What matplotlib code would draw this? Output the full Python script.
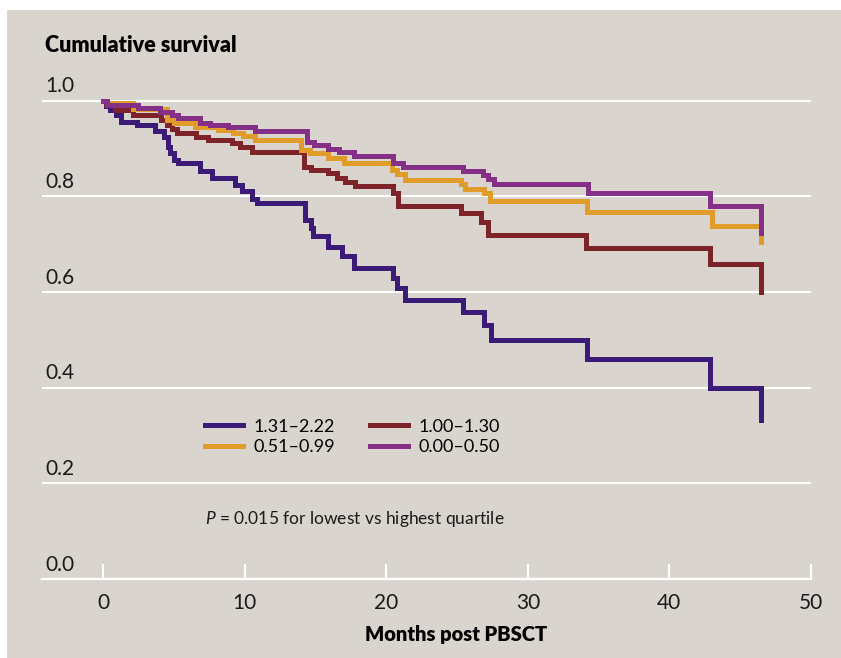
import matplotlib
matplotlib.use("Agg")
import matplotlib.pyplot as plt
from matplotlib.patches import Rectangle

# ---------------- data ----------------
labels = ["1.31–2.22", "1.00–1.30", "0.51–0.99", "0.00–0.50"]
colors = ["#3b1a78", "#7e2329", "#e09b28", "#843086"]

t_blue = [0, 0.2, 0.5, 0.9, 1.3, 2.4, 3.7, 4.3, 4.6, 4.75, 5.0, 5.3, 6.85, 7.7, 9.3, 9.8,
          10.5, 10.85, 14.25, 14.7, 14.85, 15.9, 16.9, 17.7, 20.5, 20.75, 21.3, 25.4, 26.9,
          27.4, 34.2, 42.9, 46.5]
s_blue = [1.0, 0.989, 0.981, 0.970, 0.956, 0.950, 0.937, 0.925, 0.904, 0.890, 0.876, 0.869,
          0.852, 0.838, 0.824, 0.811, 0.794, 0.786, 0.750, 0.734, 0.717, 0.695, 0.675, 0.651,
          0.629, 0.608, 0.583, 0.559, 0.531, 0.500, 0.461, 0.400, 0.333]

t_red = [0, 0.2, 0.85, 2.1, 4.1, 4.5, 4.85, 5.2, 6.6, 7.4, 9.1, 9.7, 10.5, 14.2, 14.7, 15.9,
         16.5, 17.1, 17.8, 20.5, 20.85, 25.3, 26.7, 27.2, 34.1, 42.9, 46.5]
s_red = [1.0, 0.993, 0.981, 0.970, 0.960, 0.949, 0.940, 0.932, 0.925, 0.918, 0.911, 0.904,
         0.893, 0.862, 0.855, 0.848, 0.838, 0.829, 0.822, 0.808, 0.780, 0.765, 0.747, 0.719,
         0.691, 0.659, 0.600]

t_orange = [0, 0.3, 2.1, 4.5, 5.0, 6.5, 8.1, 9.2, 9.9, 10.7, 14.0, 14.6, 15.9, 17.0, 20.4,
            20.75, 21.3, 25.3, 25.6, 26.9, 27.3, 34.2, 43.0, 46.5]
s_orange = [1.0, 0.995, 0.982, 0.960, 0.953, 0.946, 0.939, 0.932, 0.926, 0.918, 0.897, 0.890,
            0.881, 0.869, 0.855, 0.846, 0.834, 0.825, 0.815, 0.806, 0.790, 0.767, 0.739, 0.705]

t_purple = [0, 0.3, 2.5, 4.0, 4.85, 5.3, 6.85, 7.55, 8.85, 10.7, 14.4, 14.9, 15.9, 16.7, 17.7,
            20.5, 21.2, 25.45, 26.85, 27.2, 27.6, 34.25, 42.9, 46.5]
s_purple = [1.0, 0.991, 0.984, 0.977, 0.970, 0.963, 0.954, 0.949, 0.944, 0.937, 0.913, 0.908,
            0.900, 0.893, 0.884, 0.870, 0.861, 0.852, 0.845, 0.836, 0.825, 0.808, 0.780, 0.723]

xticks = [0, 10, 20, 30, 40, 50]
yticks = [0.0, 0.2, 0.4, 0.6, 0.8, 1.0]
ytick_labels = ["0.0", "0.2", "0.4", "0.6", "0.8", "1.0"]

# ---------------- style ----------------
plt.rcParams['font.family'] = ['Lato', 'DejaVu Sans']
plt.rcParams['mathtext.fontset'] = 'custom'
plt.rcParams['mathtext.it'] = 'Lato:italic'
plt.rcParams['mathtext.rm'] = 'Lato'

BG = "#d9d5ce"
W, H = 841, 658
fig = plt.figure(figsize=(W / 100, H / 100), dpi=100, facecolor="white")
fig.patches.append(Rectangle((7 / W, 0), 1, (H - 10) / H, transform=fig.transFigure,
                             facecolor=BG, edgecolor="none", zorder=-10))

ax_left, ax_right, ax_bottom, ax_top = 42, 811, 579, 90
ax = fig.add_axes([ax_left / W, (H - ax_bottom) / H, (ax_right - ax_left) / W,
                   (ax_bottom - ax_top) / H])
ax.set_facecolor("none")
ax.set_zorder(5)
px_per_month = (811 - 103) / 50
ax.set_xlim(-(103 - 42) / px_per_month, 50)
ax.set_ylim(0, (579 - 90) / 478.3)

for s in ["top", "right", "left"]:
    ax.spines[s].set_visible(False)
ax.spines["bottom"].set_color("white")
ax.spines["bottom"].set_linewidth(1.7)

for v in yticks[1:]:
    ax.axhline(v, color="white", lw=1.5, zorder=1)

ax.set_yticks([])
ax.set_xticks(xticks)
ax.set_xticklabels([str(x) for x in xticks], fontsize=15, color="#1a1a1a")
ax.tick_params(axis="x", direction="in", length=10.8, width=1.5, color="white", pad=10)

trans = matplotlib.transforms.blended_transform_factory(fig.transFigure, ax.transData)
for v, lab in zip(yticks, ytick_labels):
    ax.text(45 / W, v + 0.03, lab, transform=trans, ha="left", va="center",
            fontsize=15, color="#1a1a1a")

series = [(t_blue, s_blue), (t_red, s_red), (t_orange, s_orange), (t_purple, s_purple)]
handles = []
for (t, s), c, lab in zip(series, colors, labels):
    h, = ax.step(t, s, where="post", color=c, lw=3.6, label=lab, zorder=3,
                 solid_joinstyle="miter", clip_on=False)
    handles.append(h)

order = [0, 2, 1, 3]
leg = ax.legend([handles[i] for i in order], [labels[i] for i in order], ncol=2,
                loc="center left", bbox_to_anchor=(205 / W, 1 - 437 / H),
                bbox_transform=fig.transFigure, frameon=False, fontsize=13,
                handlelength=2.1, handletextpad=0.6, columnspacing=1.9,
                labelspacing=0.25, borderpad=0, borderaxespad=0)
for line in leg.get_lines():
    line.set_linewidth(3.6)

fig.text(205 / W, 1 - 519 / H, "$P$ = 0.015 for lowest vs highest quartile",
         ha="left", va="center", fontsize=12.5, color="#1a1a1a")

fig.text(45 / W, 1 - 45 / H, "Cumulative survival", ha="left", va="center",
         fontsize=15.5, fontweight="heavy", color="black")
fig.text(456 / W, 1 - 635 / H, "Months post PBSCT", ha="center", va="center",
         fontsize=14.5, fontweight="heavy", color="black")

fig.savefig("out.png", dpi=100, facecolor="white")
